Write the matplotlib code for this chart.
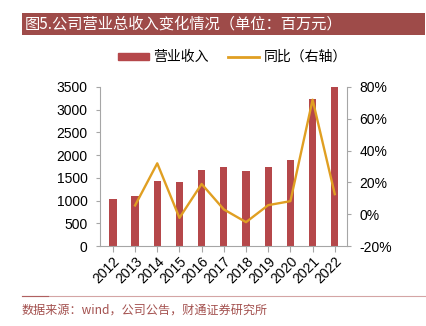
import matplotlib
matplotlib.use('Agg')
import matplotlib.pyplot as plt
from matplotlib.patches import Rectangle
from matplotlib.lines import Line2D
import numpy as np

plt.rcParams['font.family'] = ['Liberation Sans', 'Noto Sans CJK SC', 'DejaVu Sans']

# data
years = ['2012', '2013', '2014', '2015', '2016', '2017', '2018', '2019', '2020', '2021', '2022']
revenue = [1035, 1094, 1438, 1409, 1673, 1739, 1651, 1739, 1893, 3243, 3510]
yoy_years = years[1:]
yoy = [5.5, 32, -2.3, 19, 3, -5, 5.7, 8.2, 72, 12.6]

bar_color = '#b5474a'
line_color = '#e09f22'
axis_color = '#a6a6a6'
cjk = ['Noto Sans CJK SC', 'DejaVu Sans']

fig = plt.figure(figsize=(4.26, 3.26), dpi=100, facecolor='white')

# title band
fig.patches.append(Rectangle((22/426, 1-35/326), 403/426, 22/326,
                             transform=fig.transFigure, facecolor='#9e4b49',
                             edgecolor='none'))
fig.text(25/426, 1-24.5/326, '图5.公司营业总收入变化情况（单位：百万元）',
         color='white', fontsize=11, va='center', ha='left', family=cjk)

# footer
fig.lines.append(Line2D([22/426, 425/426], [1-296/326, 1-296/326],
                        transform=fig.transFigure, color='#d4a5a5', lw=0.8))
fig.lines.append(Line2D([22/426, 48/426], [1-296/326, 1-296/326],
                        transform=fig.transFigure, color='#b06060', lw=0.8))
fig.text(22/426, 1-310/326, '数据来源：wind，公司公告，财通证券研究所',
         color='#a3504e', fontsize=8.7, va='center', ha='left', family=cjk)

ax = fig.add_axes([100/426, 1-246/326, 247/426, 159/326])
x = np.arange(len(years))
ax.bar(x, revenue, width=0.33, color=bar_color, zorder=2)
ax.set_xlim(-0.58, 10.55)
ax.set_ylim(0, 3500)
ax.set_yticks(np.arange(0, 3501, 500))
ax.set_xticks(x)
ax.set_xticklabels(years, rotation=45, ha='right', rotation_mode='anchor', fontsize=10)
ax.tick_params(axis='y', labelsize=10, length=3, color=axis_color, pad=6)
ax.tick_params(axis='x', length=4, color=axis_color, pad=2)
for s in ['top', 'right']:
    ax.spines[s].set_visible(False)
for s in ['left', 'bottom']:
    ax.spines[s].set_color(axis_color)
    ax.spines[s].set_linewidth(0.8)

ax2 = ax.twinx()
ax2.plot(x[1:], yoy, color=line_color, lw=1.7, zorder=3)
ax2.set_ylim(-20, 80)
ax2.set_yticks(np.arange(-20, 81, 20))
ax2.set_yticklabels([f'{v}%' for v in range(-20, 81, 20)])
ax2.tick_params(axis='y', labelsize=10, length=3, color=axis_color, pad=6)
for s in ['top', 'left', 'bottom']:
    ax2.spines[s].set_visible(False)
ax2.spines['right'].set_color(axis_color)
ax2.spines['right'].set_linewidth(0.8)

# legend
h1 = Rectangle((0, 0), 1, 1, color=bar_color)
h2 = Line2D([0], [0], color=line_color, lw=2)
fig.legend([h1, h2], ['营业收入', '同比（右轴）'], loc='center left',
           bbox_to_anchor=(118/426, 1-57/326), ncol=2, frameon=False,
           borderpad=0, borderaxespad=0,
           handlelength=2.2, handleheight=0.4, columnspacing=1.4,
           handletextpad=0.35, prop={'family': cjk, 'size': 10})

fig.savefig('out.png', dpi=100)
